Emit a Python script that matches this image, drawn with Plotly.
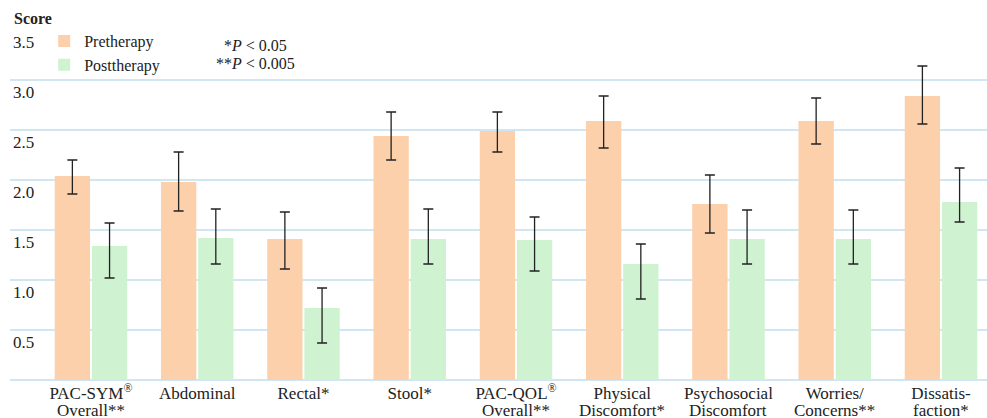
import plotly.graph_objects as go

categories = ["PAC-SYM<sup>®</sup>", "Abdominal", "Rectal*", "Stool*", "PAC-QOL<sup>®</sup>",
              "Physical", "Psychosocial", "Worries/", "Dissatis-"]
category_line2 = ["Overall**", "", "", "", "Overall**",
                  "Discomfort*", "Discomfort", "Concerns**", "faction*"]
pre_values = [2.04, 1.98, 1.41, 2.44, 2.49, 2.59, 1.76, 2.59, 2.84]
pre_err_plus = [0.16, 0.30, 0.27, 0.24, 0.19, 0.25, 0.29, 0.23, 0.30]
pre_err_minus = [0.18, 0.29, 0.30, 0.24, 0.21, 0.27, 0.29, 0.23, 0.28]
post_values = [1.34, 1.42, 0.72, 1.41, 1.40, 1.16, 1.41, 1.41, 1.78]
post_err_plus = [0.23, 0.29, 0.20, 0.30, 0.23, 0.20, 0.29, 0.29, 0.34]
post_err_minus = [0.32, 0.26, 0.35, 0.25, 0.31, 0.35, 0.25, 0.25, 0.20]
y_tickvals = [0.5, 1.0, 1.5, 2.0, 2.5, 3.0, 3.5]
y_ticktext = ["0.5", "1.0", "1.5", "2.0", "2.5", "3.0", "3.5"]

FONT = "Liberation Serif"
GRID = "#d0e6f2"
INK = "#222222"

fig = go.Figure()
fig.add_trace(go.Bar(
    name="Pretherapy", x=categories, y=pre_values,
    marker=dict(color="#fdd0ac", line=dict(width=0)),
    error_y=dict(type="data", symmetric=False, array=pre_err_plus,
                 arrayminus=pre_err_minus, color=INK, thickness=1.3, width=5),
))
fig.add_trace(go.Bar(
    name="Posttherapy", x=categories, y=post_values,
    marker=dict(color="#cff2d1", line=dict(width=0)),
    error_y=dict(type="data", symmetric=False, array=post_err_plus,
                 arrayminus=post_err_minus, color=INK, thickness=1.3, width=5),
))

annotations = [
    dict(text="<b>Score</b>", xref="paper", yref="paper", x=0.002, y=1.034,
         xanchor="left", yanchor="middle", showarrow=False,
         font=dict(family=FONT, size=16, color=INK)),
    dict(text="*<i>P</i> < 0.05", xref="paper", yref="paper", x=0.251, y=0.957,
         xanchor="center", yanchor="middle", showarrow=False,
         font=dict(family=FONT, size=16, color=INK)),
    dict(text="**<i>P</i> < 0.005", xref="paper", yref="paper", x=0.251, y=0.903,
         xanchor="center", yanchor="middle", showarrow=False,
         font=dict(family=FONT, size=16, color=INK)),
]
for cat, line2 in zip(categories, category_line2):
    if line2:
        annotations.append(dict(
            text=line2, xref="x", yref="y", x=cat, y=0, yshift=-30.5,
            xanchor="center", yanchor="middle", showarrow=False,
            font=dict(family=FONT, size=17, color=INK)))

fig.update_layout(
    width=987, height=418,
    margin=dict(l=10, r=0, t=30, b=38),
    paper_bgcolor="white", plot_bgcolor="white",
    font=dict(family=FONT, size=16, color=INK),
    barmode="group", bargap=0.30, bargroupgap=0.05,
    showlegend=True,
    legend=dict(x=0.035, y=1.017, xanchor="left", yanchor="top",
                bgcolor="rgba(0,0,0,0)", font=dict(family=FONT, size=16, color=INK),
                tracegroupgap=0, itemwidth=30),
    xaxis=dict(range=[-0.762, 8.433], showgrid=False, showline=False,
               ticks="", tickfont=dict(family=FONT, size=17, color=INK),
               ticklabelstandoff=1, automargin=False),
    yaxis=dict(range=[0, 3.5], tickvals=y_tickvals, ticktext=y_ticktext,
               ticklabelposition="inside bottom", showgrid=True,
               gridcolor=GRID, gridwidth=2, zeroline=True,
               zerolinecolor=GRID, zerolinewidth=2, showline=False,
               tickfont=dict(family=FONT, size=17, color=INK), automargin=False),
    annotations=annotations,
)

fig.write_html("out.html", config={"displayModeBar": False},
               post_script="document.body.style.margin='0px';")
